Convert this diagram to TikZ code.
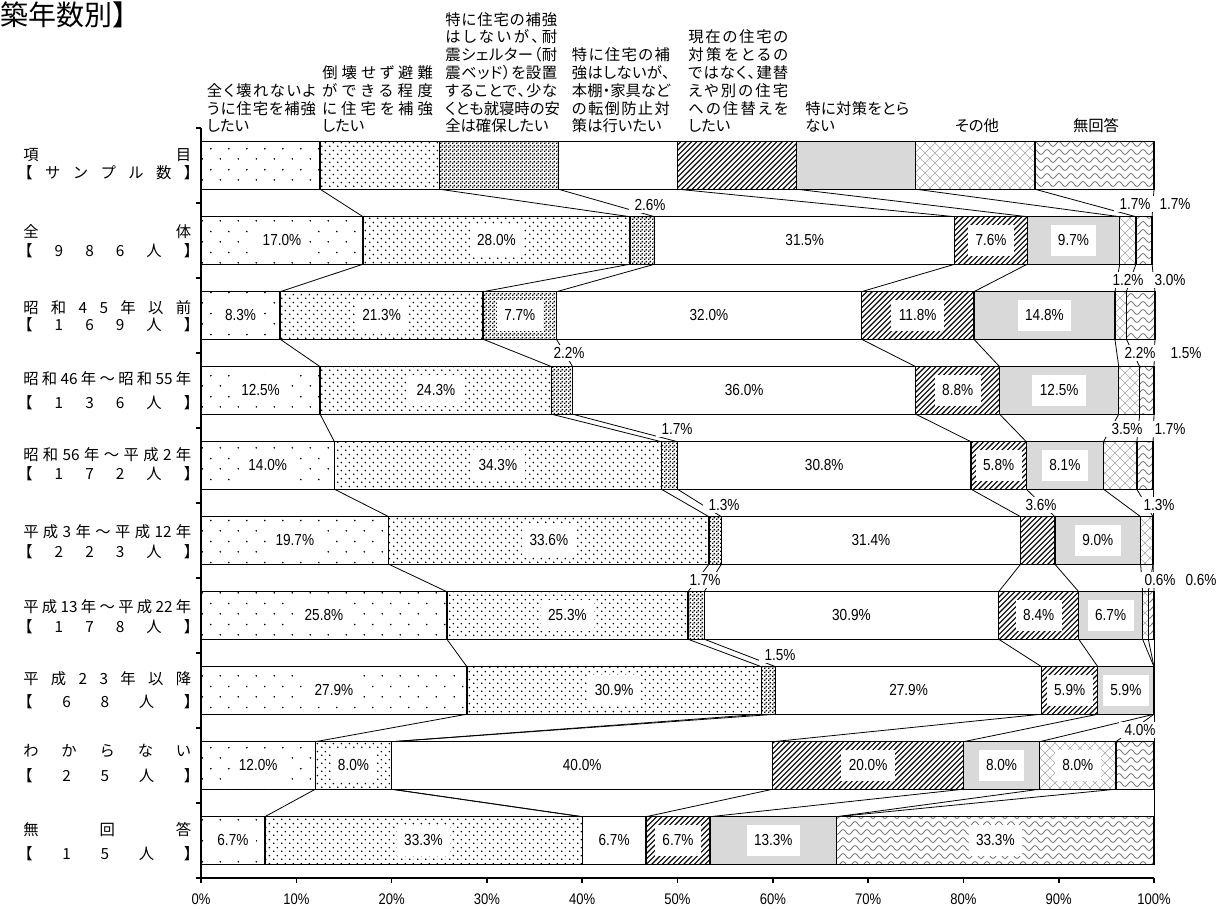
\documentclass[tikz,border=0pt]{standalone}
\usepackage{fontspec}
\setmainfont{Noto Sans CJK JP}
\newfontfamily\jpp[RawFeature=+palt]{Noto Sans CJK JP}
\newfontfamily\numf[FakeStretch=0.85]{Liberation Sans}
\usetikzlibrary{patterns}

\pgfdeclarepatternformonly{sparsedots}{\pgfqpoint{0pt}{0pt}}{\pgfqpoint{13.5pt}{15.5pt}}{\pgfqpoint{13.5pt}{15.5pt}}{%
 \pgfpathcircle{\pgfqpoint{3.4pt}{3.9pt}}{0.7pt}%
 \pgfpathcircle{\pgfqpoint{10.1pt}{11.6pt}}{0.7pt}%
 \pgfusepath{fill}}
\pgfdeclarepatternformonly{densedots}{\pgfqpoint{0pt}{0pt}}{\pgfqpoint{6pt}{6pt}}{\pgfqpoint{6pt}{6pt}}{%
 \pgfpathcircle{\pgfqpoint{1.5pt}{1.5pt}}{0.72pt}%
 \pgfpathcircle{\pgfqpoint{4.5pt}{4.5pt}}{0.72pt}%
 \pgfusepath{fill}}
\pgfdeclarepatternformonly{vdense}{\pgfqpoint{0pt}{0pt}}{\pgfqpoint{3pt}{3pt}}{\pgfqpoint{3pt}{3pt}}{%
 \pgfpathrectangle{\pgfqpoint{0pt}{0pt}}{\pgfqpoint{1.3pt}{1.3pt}}%
 \pgfpathrectangle{\pgfqpoint{1.5pt}{1.5pt}}{\pgfqpoint{1.3pt}{1.3pt}}%
 \pgfusepath{fill}}
\pgfdeclarepatternformonly{myhatch}{\pgfqpoint{-1pt}{-1pt}}{\pgfqpoint{5pt}{5pt}}{\pgfqpoint{4pt}{4pt}}{%
 \pgfsetlinewidth{0.85pt}%
 \pgfpathmoveto{\pgfqpoint{0pt}{0pt}}\pgfpathlineto{\pgfqpoint{4.1pt}{4.1pt}}%
 \pgfusepath{stroke}}
\pgfdeclarepatternformonly{mycross}{\pgfqpoint{-1pt}{-1pt}}{\pgfqpoint{8pt}{8pt}}{\pgfqpoint{7.5pt}{7.5pt}}{%
 \pgfsetlinewidth{0.45pt}%
 \pgfpathmoveto{\pgfqpoint{0pt}{0pt}}\pgfpathlineto{\pgfqpoint{7.6pt}{7.6pt}}%
 \pgfpathmoveto{\pgfqpoint{0pt}{7.5pt}}\pgfpathlineto{\pgfqpoint{7.6pt}{-0.1pt}}%
 \pgfusepath{stroke}}
\pgfdeclarepatternformonly{mywave}{\pgfqpoint{-1pt}{-1pt}}{\pgfqpoint{10pt}{7pt}}{\pgfqpoint{9pt}{6pt}}{%
 \pgfsetlinewidth{0.55pt}%
 \pgfpathmoveto{\pgfqpoint{0pt}{3pt}}%
 \pgfpathcurveto{\pgfqpoint{1.5pt}{5.4pt}}{\pgfqpoint{3pt}{5.4pt}}{\pgfqpoint{4.5pt}{3pt}}%
 \pgfpathcurveto{\pgfqpoint{6pt}{0.6pt}}{\pgfqpoint{7.5pt}{0.6pt}}{\pgfqpoint{9pt}{3pt}}%
 \pgfusepath{stroke}}

\definecolor{lgray}{RGB}{217,217,217}

\newcommand\setrow[9]{%
 \expandafter\def\csname cr#1k0\endcsname{0}%
 \expandafter\def\csname cr#1k1\endcsname{#2}%
 \expandafter\def\csname cr#1k2\endcsname{#3}%
 \expandafter\def\csname cr#1k3\endcsname{#4}%
 \expandafter\def\csname cr#1k4\endcsname{#5}%
 \expandafter\def\csname cr#1k5\endcsname{#6}%
 \expandafter\def\csname cr#1k6\endcsname{#7}%
 \expandafter\def\csname cr#1k7\endcsname{#8}%
 \expandafter\def\csname cr#1k8\endcsname{#9}}
\newcommand\cv[2]{\csname cr#1k#2\endcsname}
\setrow{0}{12.5}{25}{37.5}{50}{62.5}{75}{87.5}{100}
\setrow{1}{17.0}{45.0}{47.6}{79.1}{86.7}{96.4}{98.1}{99.8}
\setrow{2}{8.3}{29.6}{37.3}{69.3}{81.1}{95.9}{97.1}{100.1}
\setrow{3}{12.5}{36.8}{39.0}{75.0}{83.8}{96.3}{98.5}{100.0}
\setrow{4}{14.0}{48.3}{50.0}{80.8}{86.6}{94.7}{98.2}{99.9}
\setrow{5}{19.7}{53.3}{54.6}{86.0}{89.6}{98.6}{99.9}{99.9}
\setrow{6}{25.8}{51.1}{52.8}{83.7}{92.1}{98.8}{99.4}{100.0}
\setrow{7}{27.9}{58.8}{60.3}{88.2}{94.1}{100.0}{100.0}{100.0}
\setrow{8}{12.0}{20.0}{20.0}{60.0}{80.0}{88.0}{96.0}{100.0}
\setrow{9}{6.7}{40.0}{40.0}{46.7}{53.4}{66.7}{66.7}{100.0}

% justified line
\def\jlend{\jlend}
\newcommand\jl[2]{\hbox to #1{\jlA#2\jlend}}
\def\jlA#1#2{#1\ifx#2\jlend\else\hfill\expandafter\jlA\expandafter#2\fi}

\tikzset{
 segst/.code={\ifcase#1\or\pgfkeysalso{pattern=sparsedots}\or\pgfkeysalso{pattern=densedots}\or\pgfkeysalso{pattern=vdense}\or\pgfkeysalso{fill=white}\or\pgfkeysalso{pattern=myhatch}\or\pgfkeysalso{fill=lgray}\or\pgfkeysalso{pattern=mycross,pattern color=black!35}\or\pgfkeysalso{pattern=mywave,pattern color=black!60}\fi},
 barline/.style={draw=black, line width=1pt},
 serline/.style={draw=black, line width=0.6pt},
 inlab/.style={fill=white, inner xsep=5.6pt, inner ysep=0pt, minimum height=23.8pt, font=\numf\fontsize{12pt}{14pt}\selectfont},
 outlab/.style={fill=white, inner xsep=4pt, inner ysep=1.5pt, font=\numf\fontsize{12pt}{14pt}\selectfont},
 ticklab/.style={inner sep=0pt, font=\numf\fontsize{11.5pt}{13pt}\selectfont},
 hd/.style={anchor=base west, inner sep=0pt, font=\jpp\fontsize{11.5pt}{13pt}\selectfont},
 hdc/.style={anchor=base, inner sep=0pt, font=\jpp\fontsize{11.5pt}{13pt}\selectfont},
 rl/.style={anchor=base west, inner sep=0pt, font=\fontsize{11.5pt}{13pt}\selectfont},
 axisline/.style={line width=1.2pt, draw=black},
}

\begin{document}
\begin{tikzpicture}[x=0.75pt,y=-0.75pt]
\useasboundingbox (0,0) rectangle (1225,908);
\fill[white] (0,0) rectangle (1225,908);

% title
\node[anchor=base west, inner sep=0pt, font=\fontsize{21pt}{22pt}\selectfont] (title) at (0,25) {築年数別】};

% series lines
\foreach \r in {1,...,9}{
 \pgfmathtruncatemacro\rp{\r-1}
 \foreach \k in {1,...,8}{
  \edef\va{\cv{\rp}{\k}}\edef\vb{\cv{\r}{\k}}
  \coordinate (sa) at ({201+9.53*\va},{141.7+75*\rp+47.5});
  \coordinate (sb) at ({201+9.53*\vb},{141.7+75*\r});
  \draw[serline] (sa) -- (sb);
 }}

% bars
\foreach \r in {0,...,9}{
 \foreach \k in {1,...,8}{
  \pgfmathtruncatemacro\km{\k-1}
  \edef\va{\cv{\r}{\km}}\edef\vb{\cv{\r}{\k}}
  \pgfmathsetmacro\segw{\vb-\va}
  \ifdim\segw pt>0.05pt
   \draw[barline,segst=\k] ({201+9.53*\va},{141.7+75*\r}) rectangle ({201+9.53*\vb},{141.7+75*\r+47.5});
  \fi
 }}

% inside labels
\foreach \r/\p/\lab in {1/8.5/17.0, 1/31.0/28.0, 1/63.35/31.5, 1/82.9/7.6, 1/91.55/9.7,
 2/4.15/8.3, 2/18.95/21.3, 2/33.45/7.7, 2/53.3/32.0, 2/75.2/11.8, 2/88.5/14.8,
 3/6.25/12.5, 3/24.65/24.3, 3/57.0/36.0, 3/79.4/8.8, 3/90.05/12.5,
 4/7.0/14.0, 4/31.15/34.3, 4/65.4/30.8, 4/83.7/5.8, 4/90.65/8.1,
 5/9.85/19.7, 5/36.5/33.6, 5/70.3/31.4, 5/94.1/9.0,
 6/12.9/25.8, 6/38.45/25.3, 6/68.25/30.9, 6/87.9/8.4, 6/95.45/6.7,
 7/13.95/27.9, 7/43.35/30.9, 7/74.25/27.9, 7/91.15/5.9, 7/97.05/5.9,
 8/6/12.0, 8/16/8.0, 8/40/40.0, 8/70/20.0, 8/84/8.0, 8/92/8.0,
 9/3.35/6.7, 9/23.35/33.3, 9/43.35/6.7, 9/50.05/6.7, 9/60.05/13.3, 9/83.35/33.3}
 \node[inlab] (il) at ({201+9.53*\p},{141.7+75*\r+23.75}) {\lab\%};

% outside labels
\foreach \px/\py/\lab in {650/205/2.6, 1135/204/1.7, 1175/204/1.7, 1128/280/1.2, 1170/280/3.0,
 569/353/2.2, 1140/353/2.2, 1186/353/1.5, 677/429/1.7, 1127/429/3.5, 1170/429/1.7,
 724/505/1.3, 1041/505/3.6, 1159/505/1.3, 705/580/1.7, 1160/580/0.6, 1201/580/0.6,
 780/655/1.5, 1140/730/4.0}
 \node[outlab] (ol) at (\px,\py) {\lab\%};

% axes
\draw[axisline] (201,128) -- (201,878) -- (1154,878);
\foreach \i in {0,...,10}{
 \draw[axisline] (196,128+75*\i) -- (201,128+75*\i);
 \draw[axisline] ({201+95.3*\i},878) -- ({201+95.3*\i},883);
 \node[ticklab] (t\i) at ({201+95.3*\i},899) {\the\numexpr\i*10\relax\%};
}

% column headings
\node[hd] (h11) at (206.7,96.2) {\jl{81.75pt}{全く壊れないよ}};
\node[hd] (h12) at (206.7,114) {\jl{81.75pt}{うに住宅を補強}};
\node[hd] (h13) at (206.7,131.8) {したい};

\node[hd] (h21) at (322,78.4) {\jl{83pt}{倒壊せず避難}};
\node[hd] (h22) at (322,96.2) {\jl{83pt}{ができる程度}};
\node[hd] (h23) at (322,114) {\jl{83pt}{に住宅を補強}};
\node[hd] (h24) at (322,131.8) {したい};

\node[hd] (h31) at (445,25) {\jl{84pt}{特に住宅の補強}};
\node[hd] (h32) at (445,42.8) {\jl{84pt}{はしないが、耐}};
\node[hd] (h33) at (445,60.6) {\jl{84pt}{震シェルター（耐}};
\node[hd] (h34) at (445,78.4) {\jl{84pt}{震ベッド）を設置}};
\node[hd] (h35) at (445,96.2) {\jl{84pt}{することで、少な}};
\node[hd] (h36) at (445,114) {\jl{84pt}{くとも就寝時の安}};
\node[hd] (h37) at (445,131.8) {全は確保したい};

\node[hd] (h41) at (571.7,60.6) {\jl{73.5pt}{特に住宅の補}};
\node[hd] (h42) at (571.7,78.4) {\jl{73.5pt}{強はしないが、}};
\node[hd] (h43) at (571.7,96.2) {\jl{73.5pt}{本棚・家具など}};
\node[hd] (h44) at (571.7,114) {\jl{73.5pt}{の転倒防止対}};
\node[hd] (h45) at (571.7,131.8) {策は行いたい};

\node[hd] (h51) at (688,42.8) {\jl{75pt}{現在の住宅の}};
\node[hd] (h52) at (688,60.6) {\jl{75pt}{対策をとるの}};
\node[hd] (h53) at (688,78.4) {\jl{75pt}{ではなく、建替}};
\node[hd] (h54) at (688,96.2) {\jl{75pt}{えや別の住宅}};
\node[hd] (h55) at (688,114) {\jl{75pt}{への住替えを}};
\node[hd] (h56) at (688,131.8) {したい};

\node[hd] (h61) at (805,114) {\jl{78pt}{特に対策をとら}};
\node[hd] (h62) at (805,131.8) {ない};

\node[hdc] (h7) at (977,131.8) {その他};
\node[hdc] (h8) at (1096,131.8) {無回答};

% row labels
\node[rl] (r0a) at (23,160.8) {\hbox to 126pt{項\hfill 目}};
\node[rl] (r0b) at (17,178.8) {\hbox to 136.5pt{【\hfill サ\hfill ン\hfill プ\hfill ル\hfill 数\hfill 】}};
\node[rl] (r1a) at (23,237.5) {\hbox to 126pt{全\hfill 体}};
\node[rl] (r1b) at (17,256.8) {\hbox to 136.5pt{【\hfill 9\hfill 8\hfill 6\hfill 人\hfill 】}};
\node[rl] (r2a) at (23,313.1) {\hbox to 126pt{昭\hfill 和\hfill 4\hfill 5\hfill 年\hfill 以\hfill 前}};
\node[rl] (r2b) at (17,330.8) {\hbox to 136.5pt{【\hfill 1\hfill 6\hfill 9\hfill 人\hfill 】}};
\node[rl] (r3a) at (23,384.1) {\hbox to 126pt{昭\hfill 和\hfill 46\hfill 年\hfill ～\hfill 昭\hfill 和\hfill 55\hfill 年}};
\node[rl] (r3b) at (17,408.5) {\hbox to 136.5pt{【\hfill 1\hfill 3\hfill 6\hfill 人\hfill 】}};
\node[rl] (r4a) at (23,460.8) {\hbox to 126pt{昭\hfill 和\hfill 56\hfill 年\hfill ～\hfill 平\hfill 成\hfill 2\hfill 年}};
\node[rl] (r4b) at (17,479.1) {\hbox to 136.5pt{【\hfill 1\hfill 7\hfill 2\hfill 人\hfill 】}};
\node[rl] (r5a) at (23,537.5) {\hbox to 126pt{平\hfill 成\hfill 3\hfill 年\hfill ～\hfill 平\hfill 成\hfill 12\hfill 年}};
\node[rl] (r5b) at (17,557.5) {\hbox to 136.5pt{【\hfill 2\hfill 2\hfill 3\hfill 人\hfill 】}};
\node[rl] (r6a) at (23,612.5) {\hbox to 126pt{平\hfill 成\hfill 13\hfill 年\hfill ～\hfill 平\hfill 成\hfill 22\hfill 年}};
\node[rl] (r6b) at (17,632.5) {\hbox to 136.5pt{【\hfill 1\hfill 7\hfill 8\hfill 人\hfill 】}};
\node[rl] (r7a) at (23,684.8) {\hbox to 126pt{平\hfill 成\hfill 2\hfill 3\hfill 年\hfill 以\hfill 降}};
\node[rl] (r7b) at (17,707.5) {\hbox to 136.5pt{【\hfill 6\hfill 8\hfill 人\hfill 】}};
\node[rl] (r8a) at (23,756.5) {\hbox to 126pt{わ\hfill か\hfill ら\hfill な\hfill い}};
\node[rl] (r8b) at (17,781.8) {\hbox to 136.5pt{【\hfill 2\hfill 5\hfill 人\hfill 】}};
\node[rl] (r9a) at (23,835.8) {\hbox to 126pt{無\hfill 回\hfill 答}};
\node[rl] (r9b) at (17,859.1) {\hbox to 136.5pt{【\hfill 1\hfill 5\hfill 人\hfill 】}};
\end{tikzpicture}
\end{document}
